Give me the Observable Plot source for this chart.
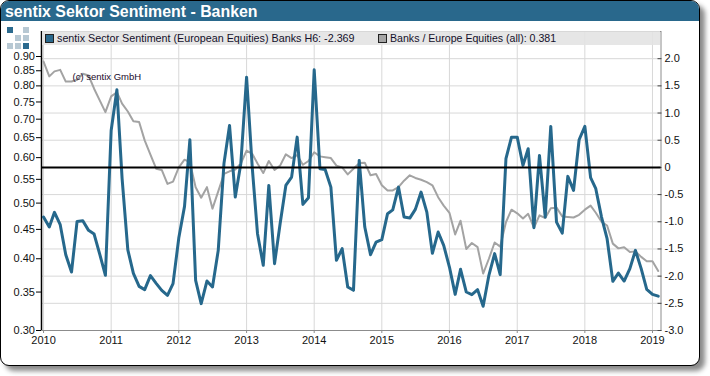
<!DOCTYPE html>
<html><head><meta charset="utf-8">
<script src="https://cdn.jsdelivr.net/npm/d3@7"></script>
<script src="https://cdn.jsdelivr.net/npm/@observablehq/plot@0.6"></script>
<style>
html,body{margin:0;padding:0;background:#fff;}
body{width:710px;height:376px;overflow:hidden;position:relative;font-family:"Liberation Sans",Arial,sans-serif;}
#frame{position:absolute;left:0;top:0;width:698px;height:364px;border:1px solid #000;border-radius:9px;box-shadow:5px 5px 5px #8a8a8a;background:#fff;overflow:hidden;}
#title{position:absolute;left:0;top:0;right:0;height:20px;background:#29688c;color:#fff;font-weight:bold;font-size:15.9px;line-height:21px;padding-left:4px;}
#chart{position:absolute;left:0;top:0;}
#legend{position:absolute;left:42px;top:31px;width:618px;height:14px;background:rgba(226,226,226,.88);line-height:15px;color:#14102a;}
#legend span{position:absolute;top:0;white-space:nowrap;}
#legend i{position:absolute;top:3px;width:7px;height:7px;border:1px solid #222;}
.logo{position:absolute;width:6px;height:6px;}
</style></head><body>
<div id="frame"><div id="title">sentix Sektor Sentiment - Banken</div></div>
<div id="chart"></div>
<div id="legend">
<i style="left:3px;background:#29688c"></i><span style="left:15px;font-size:10.75px">sentix Sector Sentiment (European Equities) Banks H6: -2.369</span>
<i style="left:336px;background:#a5a5a5"></i><span style="left:348px;font-size:10.6px">Banks / Europe Equities (all): 0.381</span>
</div>
<script>
const sentiment = [-0.914,-1.097,-0.827,-1.053,-1.605,-1.925,-0.993,-0.980,-1.158,-1.226,-1.605,-1.985,
 0.680,1.428,-0.202,-1.517,-1.949,-2.188,-2.248,-1.991,-2.132,-2.261,-2.353,-2.138,
 -1.300,-0.717,0.509,-2.077,-2.506,-2.090,-2.200,-1.526,0.074,0.772,-0.546,0.074,
 1.660,-0.018,-1.219,-1.801,-0.331,-1.770,-1.035,-0.331,-0.178,0.557,-0.680,-0.557,
 1.796,-0.024,-0.037,-0.362,-1.710,-1.494,-2.200,-2.261,0.129,-1.097,-1.605,-1.373,
 -1.329,-0.851,-0.781,-0.362,-0.914,-0.932,-0.772,-0.454,-0.822,-1.581,-1.189,-1.434,
 -1.833,-2.335,-1.875,-2.292,-2.340,-2.248,-2.555,-1.985,-1.586,-1.972,0.160,0.557,
 0.557,0.037,0.344,-1.108,0.221,-0.914,0.754,-1.006,-1.208,-0.165,-0.423,0.509,
 0.754,-0.189,-0.392,-0.914,-1.311,-2.096,-1.943,-2.090,-1.862,-1.526,-1.862,-2.243,-2.335,-2.369];
const banksEurope = [.882,.831,.848,.853,.814,.814,.820,.840,.834,.791,.754,.720,
 .767,.780,.745,.722,.694,.692,.643,.607,.574,.571,.540,.545,
 .577,.595,.589,.533,.511,.533,.489,.524,.562,.568,.572,.586,
 .617,.609,.586,.564,.592,.571,.581,.608,.599,.606,.583,.592,
 .613,.603,.601,.599,.581,.577,.561,.574,.587,.588,.559,.562,
 .537,.526,.526,.533,.547,.559,.553,.549,.544,.537,.512,.495,
 .481,.441,.466,.416,.426,.419,.377,.400,.427,.420,.463,.487,
 .480,.470,.479,.453,.476,.471,.490,.491,.474,.473,.472,.477,
 .487,.495,.481,.464,.457,.425,.417,.419,.411,.412,.403,.396,.396,.381];
const leftTicks = [0.30,0.35,0.40,0.45,0.50,0.55,0.60,0.65,0.70,0.75,0.80,0.85,0.90];
const rightTicks = [-3,-2.5,-2,-1.5,-1,-0.5,0,0.5,1,1.5,2];
const yearTicks = [2010,2011,2012,2013,2014,2015,2016,2017,2018,2019].map(y => new Date(Date.UTC(y,0,1)));
const logoCells = [[0,0,"#2b6a8e"],[2,0,"#b7c8d3"],[1,1,"#b7c8d3"],[2,1,"#b7c8d3"],[0,2,"#b7c8d3"],[1,2,"#b7c8d3"],[2,2,"#2b6a8e"]];

const months = sentiment.map((_, i) => new Date(Date.UTC(2010, i, 1)));
const toRight = d3.scaleLog().domain([0.30, 0.90]).range([-3, 2.04]);
const blue = months.map((date, i) => ({date, value: sentiment[i]}));
const grey = months.map((date, i) => ({date, value: toRight(banksEurope[i])}));
const xDomain = [new Date(Date.UTC(2009,11,21)), new Date(Date.UTC(2019,1,16))];
const fmtRight = d => d === 0 ? "0" : d.toFixed(1);

const plot = Plot.plot({
  width: 710, height: 376,
  marginLeft: 41, marginRight: 49.5, marginTop: 31, marginBottom: 46,
  style: {background: "transparent", fontFamily: '"Liberation Sans", Arial, sans-serif', fontSize: "11px", color: "#111"},
  x: {type: "utc", domain: xDomain, label: null},
  y: {domain: [-3, 2.5], label: null},
  marks: [
    Plot.gridX(yearTicks, {stroke: "#d8d8d8", strokeOpacity: 1}),
    Plot.gridY(rightTicks, {stroke: "#d8d8d8", strokeOpacity: 1}),
    Plot.frame({stroke: "#8c8c8c"}),
    Plot.ruleX([xDomain[0]], {stroke: "#000", strokeWidth: 1.5}),
    Plot.axisY(leftTicks.map(d => toRight(d)), {anchor: "left", tickSize: 5, tickPadding: 1.5, stroke: "#000",
      tickFormat: d => toRight.invert(d).toFixed(2), label: null, fill: "#111"}),
    Plot.axisY(rightTicks, {anchor: "right", tickSize: -4, tickPadding: 7.5, stroke: "#444",
      tickFormat: fmtRight, label: null, fill: "#111"}),
    Plot.axisX(yearTicks, {anchor: "bottom", tickSize: 3, tickPadding: 3, stroke: "#8c8c8c",
      tickFormat: d3.utcFormat("%Y"), label: null, fill: "#111"}),
    Plot.line(grey, {x: "date", y: "value", stroke: "#a3a3a3", strokeWidth: 2}),
    Plot.line(blue, {x: "date", y: "value", stroke: "#26688c", strokeWidth: 3}),
    Plot.ruleY([0], {stroke: "#000", strokeWidth: 2}),
    Plot.text(["(c) sentix GmbH"], {x: new Date(Date.UTC(2010,5,1)), y: 1.67, text: d => d, textAnchor: "start",
      fontSize: 9.5, fill: "#1a0a2a", dx: 1})
  ]
});
document.getElementById("chart").appendChild(plot);
logoCells.forEach(([c, r, col]) => {
  const e = document.createElement("div");
  e.className = "logo";
  e.style.cssText = `left:${7 + c * 8}px;top:${26.5 + r * 8}px;background:${col}`;
  document.body.appendChild(e);
});
</script>
</body></html>
